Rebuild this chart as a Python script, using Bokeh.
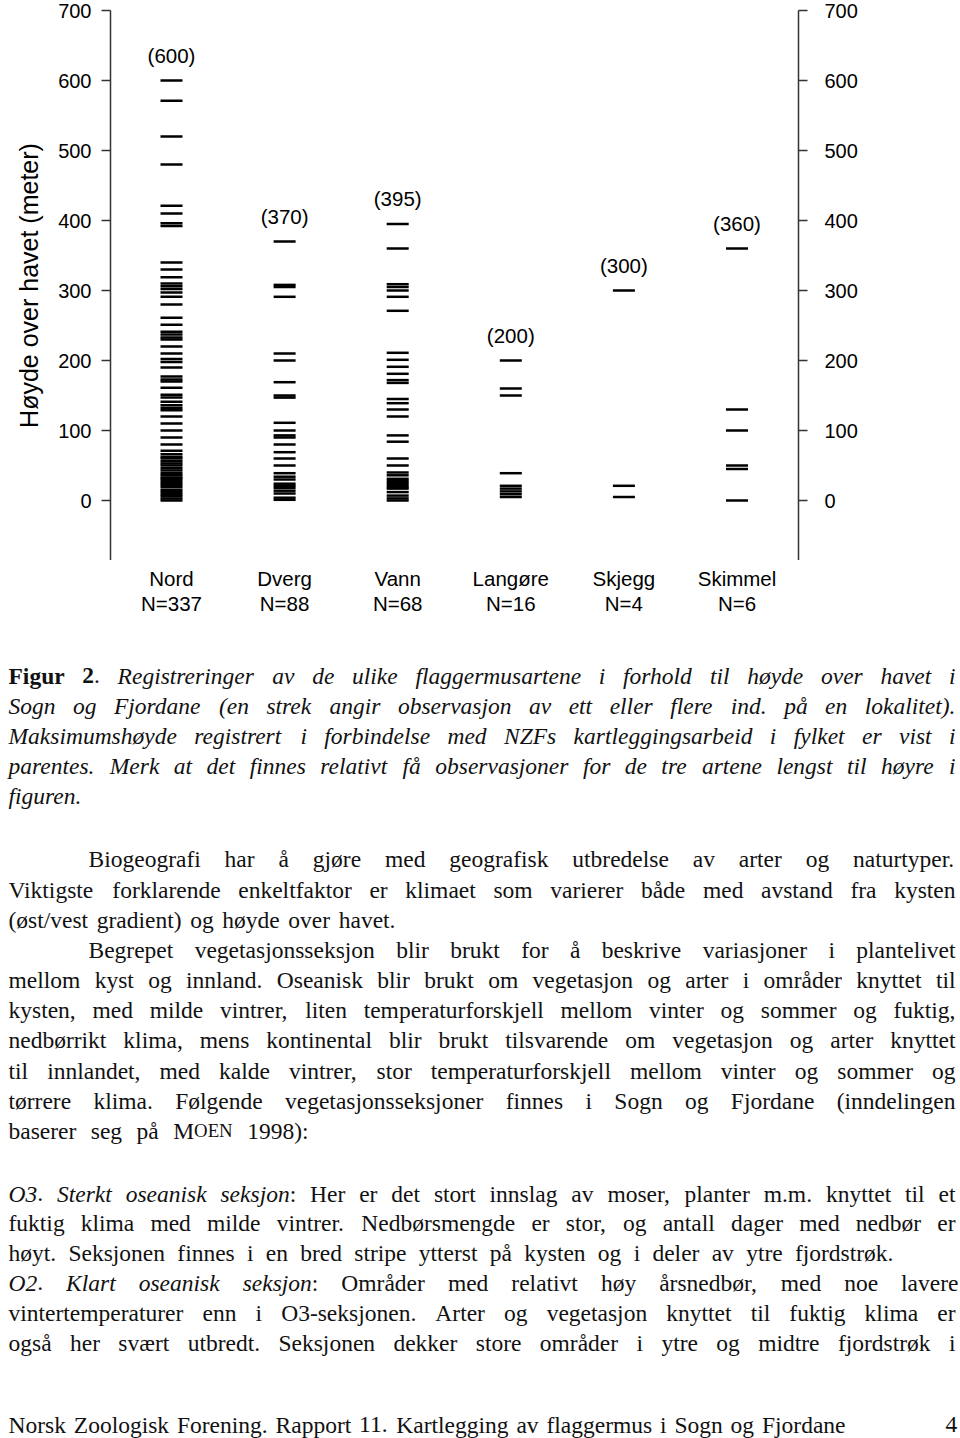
from bokeh.plotting import figure
from bokeh.layouts import column
from bokeh.models import Range1d, LinearAxis, FixedTicker, ColumnDataSource
from bokeh.core.properties import value
from bokeh.embed import file_html
from bokeh.resources import INLINE

# ---------------- chart data ----------------
species = ["Nord", "Dverg", "Vann", "Langøre", "Skjegg", "Skimmel"]
n_obs = [337, 88, 68, 16, 4, 6]
max_height = [600, 370, 395, 200, 300, 360]

nord_heights = [600, 571, 520, 480, 421, 410, 396, 392, 340, 330, 319, 310, 306, 302,
                297, 291, 280, 261, 251, 241, 237, 233, 230, 220, 210, 202, 198, 190,
                177, 173, 170, 161, 151, 147, 141, 136, 132, 129, 120, 110, 100, 90,
                80, 71, 66, 62, 60, 56, 53, 50, 46, 43, 39, 36, 33, 31, 28, 25, 22,
                19, 15, 12, 9, 6, 3, 0]
dverg_heights = [370, 308, 305, 291, 210, 200, 169, 150, 147, 111, 100, 93, 90, 80,
                 69, 60, 50, 39, 34, 30, 24, 21, 18, 14, 10, 4, 1]
vann_heights = [395, 360, 309, 305, 300, 291, 271, 211, 201, 191, 181, 172, 168, 145,
                139, 130, 120, 93, 84, 60, 50, 40, 36, 31, 28, 25, 22, 19, 17, 12, 7, 3, 0]
langore_heights = [200, 160, 150, 39, 21, 17, 13, 9, 5]
skjegg_heights = [300, 21, 5]
skimmel_heights = [360, 130, 100, 50, 45, 0]
heights = [nord_heights, dverg_heights, vann_heights, langore_heights,
           skjegg_heights, skimmel_heights]

tick_values = [0, 100, 200, 300, 400, 500, 600, 700]
y_title = "Høyde over havet (meter)"

# ---------------- page text ----------------
text_runs = [
    [("b", "Figur 2"), ("r", "."), ("i", " Registreringer av de ulike flaggermusartene i forhold til høyde over havet i")],
    [("i", "Sogn og Fjordane (en strek angir observasjon av ett eller flere ind. på en lokalitet).")],
    [("i", "Maksimumshøyde registrert i forbindelse med NZFs kartleggingsarbeid i fylket er vist i")],
    [("i", "parentes. Merk at det finnes relativt få observasjoner for de tre artene lengst til høyre i")],
    [("i", "figuren.")],
    [("r", "Biogeografi har å gjøre med geografisk utbredelse av arter og naturtyper.")],
    [("r", "Viktigste forklarende enkeltfaktor er klimaet som varierer både med avstand fra kysten")],
    [("r", "(øst/vest gradient) og høyde over havet.")],
    [("r", "Begrepet vegetasjonsseksjon blir brukt for å beskrive variasjoner i plantelivet")],
    [("r", "mellom kyst og innland. Oseanisk blir brukt om vegetasjon og arter i områder knyttet til")],
    [("r", "kysten, med milde vintrer, liten temperaturforskjell mellom vinter og sommer og fuktig,")],
    [("r", "nedbørrikt klima, mens kontinental blir brukt tilsvarende om vegetasjon og arter knyttet")],
    [("r", "til innlandet, med kalde vintrer, stor temperaturforskjell mellom vinter og sommer og")],
    [("r", "tørrere klima. Følgende vegetasjonsseksjoner finnes i Sogn og Fjordane (inndelingen")],
    [("r", "baserer seg på M"), ("sc", "OEN"), ("r", " 1998):")],
    [("i", "O3"), ("r", "."), ("i", " Sterkt oseanisk seksjon"), ("r", ": Her er det stort innslag av moser, planter m.m. knyttet til et")],
    [("r", "fuktig klima med milde vintrer. Nedbørsmengde er stor, og antall dager med nedbør er")],
    [("r", "høyt. Seksjonen finnes i en bred stripe ytterst på kysten og i deler av ytre fjordstrøk.")],
    [("i", "O2"), ("r", "."), ("i", " Klart oseanisk seksjon"), ("r", ": Områder med relativt høy årsnedbør, med noe lavere")],
    [("r", "vintertemperaturer enn i O3-seksjonen. Arter og vegetasjon knyttet til fuktig klima er")],
    [("r", "også her svært utbredt. Seksjonen dekker store områder i ytre og midtre fjordstrøk i")],
    [("r", "Norsk Zoologisk Forening. Rapport 11. Kartlegging av flaggermus i Sogn og Fjordane")],
    [("r", "4")],
]
line_baseline = [675, 705, 735, 765, 795, 858, 889, 919, 949, 979, 1009, 1039, 1070,
                 1100, 1130, 1193, 1222, 1252, 1282, 1312, 1342, 1424, 1424]
line_left = [8, 8, 8, 8, 8, 88, 8, 8, 88, 8, 8, 8, 8, 8, 8, 8, 8, 8, 8, 8, 8, 8, 945]
line_right = [955, 955, 955, 955, None, 955, 955, 395, 955, 955, 955, 955, 955, 955,
              308, 955, 955, 893, 958, 955, 955, 845, None]

# ---------------- layout constants ----------------
PAGE_W, PAGE_H = 960, 1438
FL, FR, FT, TOP_H = 110, 798, 10, 560
PX_PER_M = 0.7
ZERO_PX = 500
X0_PX, DX_PX = 171, 113.1
CAT_LINE1, CAT_LINE2 = 578, 603
BODY_FS = 23.5
SC_SCALE = 0.8


def px_to_m(py):
    return (ZERO_PX - py) / PX_PER_M


y_top = 700
y_bot = px_to_m(TOP_H)
x_lo = 1 - (X0_PX - FL) / DX_PX
x_hi = 1 + (FR - X0_PX) / DX_PX

# Times metrics (per 1000 em) for justification
UP = "ABCDEFGHIJKLMNOPQRSTUVWXYZ"
LO = "abcdefghijklmnopqrstuvwxyz"
W_R = dict(zip(UP, [722, 667, 667, 722, 611, 556, 722, 722, 333, 389, 722, 611, 889, 722,
                    722, 556, 722, 667, 556, 611, 722, 722, 944, 722, 722, 611]))
W_R.update(zip(LO, [444, 500, 444, 500, 444, 333, 500, 500, 278, 278, 500, 278, 778, 500,
                    500, 500, 500, 333, 389, 278, 500, 500, 722, 500, 500, 444]))
W_R.update({" ": 250, ".": 250, ",": 250, ":": 278, ";": 278, "(": 333, ")": 333,
            "/": 278, "-": 333, "å": 444, "ø": 500, "æ": 667, "Ø": 722, "Å": 722})
W_I = dict(zip(UP, [611, 611, 667, 722, 611, 611, 722, 722, 333, 444, 667, 556, 833, 667,
                    722, 611, 722, 611, 500, 556, 722, 611, 833, 611, 556, 556]))
W_I.update(zip(LO, [500, 500, 444, 500, 444, 278, 500, 500, 278, 278, 444, 278, 722, 500,
                    500, 500, 500, 389, 389, 278, 500, 444, 667, 444, 444, 389]))
W_I.update({" ": 250, ".": 250, ",": 250, ":": 333, ";": 333, "(": 333, ")": 333,
            "/": 278, "-": 333, "å": 500, "ø": 500})
W_B = dict(zip(UP, [722, 667, 722, 722, 667, 611, 778, 778, 389, 500, 778, 667, 944, 722,
                    778, 611, 778, 722, 556, 667, 722, 722, 1000, 722, 722, 667]))
W_B.update(zip(LO, [500, 556, 444, 556, 444, 333, 500, 556, 278, 333, 556, 278, 833, 556,
                    500, 556, 556, 444, 389, 333, 556, 500, 722, 500, 500, 444]))
W_B.update({" ": 250, ".": 250})
TABLES = {"r": W_R, "i": W_I, "b": W_B, "sc": W_R}
STYLE = {"r": "normal", "i": "italic", "b": "bold", "sc": "normal"}


def piece_size(style):
    return BODY_FS * (SC_SCALE if style == "sc" else 1.0)


def piece_width(text, style):
    t = TABLES[style]
    return sum(t.get(c, 500) for c in text) / 1000.0 * piece_size(style)


def split_words(runs):
    words = [[]]
    for style, text in runs:
        parts = text.split(" ")
        for k, part in enumerate(parts):
            if k > 0:
                words.append([])
            if part:
                words[-1].append((style, part))
    return [w for w in words if w]


def no_frame_align(fig):
    if "frame_align" in fig.properties():
        fig.frame_align = False


# ---------------- chart figure ----------------
p1 = figure(width=PAGE_W, height=TOP_H,
            x_range=Range1d(x_lo, x_hi), y_range=Range1d(y_bot, y_top),
            x_axis_type=None, y_axis_type=None,
            output_backend="svg", toolbar_location=None,
            min_border_left=FL, min_border_right=PAGE_W - FR,
            min_border_top=FT, min_border_bottom=0)
p1.outline_line_color = None
p1.background_fill_color = "white"
p1.border_fill_color = "white"
no_frame_align(p1)

AX_COL = "#333333"


def style_axis(ax, standoff):
    ax.ticker = FixedTicker(ticks=tick_values)
    ax.major_tick_out = 9
    ax.major_tick_in = 0
    ax.minor_tick_out = 0
    ax.minor_tick_in = 0
    ax.axis_line_color = AX_COL
    ax.axis_line_width = 1.5
    ax.major_tick_line_color = AX_COL
    ax.major_tick_line_width = 1.5
    ax.major_label_text_font = "Liberation Sans"
    ax.major_label_text_font_size = "20px"
    ax.major_label_text_color = "black"
    ax.major_label_standoff = standoff


yl = LinearAxis(axis_label=y_title)
style_axis(yl, 10)
yl.axis_label_text_font = "Liberation Sans"
yl.axis_label_text_font_size = "25px"
yl.axis_label_text_font_style = "normal"
yl.axis_label_text_color = "black"
yl.axis_label_standoff = 12
p1.add_layout(yl, "left")

yr = LinearAxis()
style_axis(yr, 17)
p1.add_layout(yr, "right")

# dashes
xs, ys = [], []
for i, hs in enumerate(heights):
    xs += [i + 1] * len(hs)
    ys += hs
src = ColumnDataSource(dict(x=xs, y=ys))
p1.scatter(x="x", y="y", source=src, marker="dash", size=22,
           line_color="black", line_width=2.5)

# maximum labels
cat_x = list(range(1, len(species) + 1))
p1.text(x=cat_x, y=[m + 36 for m in max_height],
        text=[f"({m})" for m in max_height], text_align="center",
        text_baseline="middle", text_font=value("Liberation Sans"),
        text_font_size=value("20.5px"), text_color="black")

# ---------------- lower figure: category labels + page text ----------------
p2 = figure(width=PAGE_W, height=PAGE_H - TOP_H,
            x_range=Range1d(0, PAGE_W), y_range=Range1d(PAGE_H, TOP_H),
            x_axis_type=None, y_axis_type=None,
            output_backend="svg", toolbar_location=None,
            min_border_left=0, min_border_right=0,
            min_border_top=0, min_border_bottom=0)
p2.outline_line_color = None
p2.background_fill_color = "white"
p2.border_fill_color = "white"
no_frame_align(p2)
p2.extra_x_ranges = {"cat": Range1d(1 - X0_PX / DX_PX, 1 + (PAGE_W - X0_PX) / DX_PX)}

p2.text(x=cat_x, y=[CAT_LINE1] * len(species), text=species, x_range_name="cat",
        text_align="center", text_baseline="middle",
        text_font=value("Liberation Sans"), text_font_size=value("20.5px"),
        text_color="black")
p2.text(x=cat_x, y=[CAT_LINE2] * len(species), text=[f"N={n}" for n in n_obs],
        x_range_name="cat", text_align="center", text_baseline="middle",
        text_font=value("Liberation Sans"), text_font_size=value("20.5px"),
        text_color="black")

tx, ty, tt, tsize, tstyle = [], [], [], [], []
for runs, base, left, right in zip(text_runs, line_baseline, line_left, line_right):
    words = split_words(runs)
    widths = [sum(piece_width(t, s) for s, t in w) for w in words]
    gaps = len(words) - 1
    if right is not None and gaps > 0:
        gap = (right - left - sum(widths)) / gaps
    else:
        gap = 0.25 * BODY_FS
    cx = left
    for w, ww in zip(words, widths):
        px = cx
        for s, t in w:
            tx.append(px)
            ty.append(base)
            tt.append(t)
            tsize.append(f"{piece_size(s)}px")
            tstyle.append(STYLE[s])
            px += piece_width(t, s)
        cx += ww + gap

tsrc = ColumnDataSource(dict(x=tx, y=ty, text=tt, size=tsize, style=tstyle))
p2.text(x="x", y="y", text="text", source=tsrc, text_align="left",
        text_baseline="alphabetic", text_font=value("Liberation Serif"),
        text_font_size="size", text_font_style="style", text_color="#111111")

layout = column(p1, p2, spacing=0)
open("out.html", "w").write(file_html(layout, INLINE))
